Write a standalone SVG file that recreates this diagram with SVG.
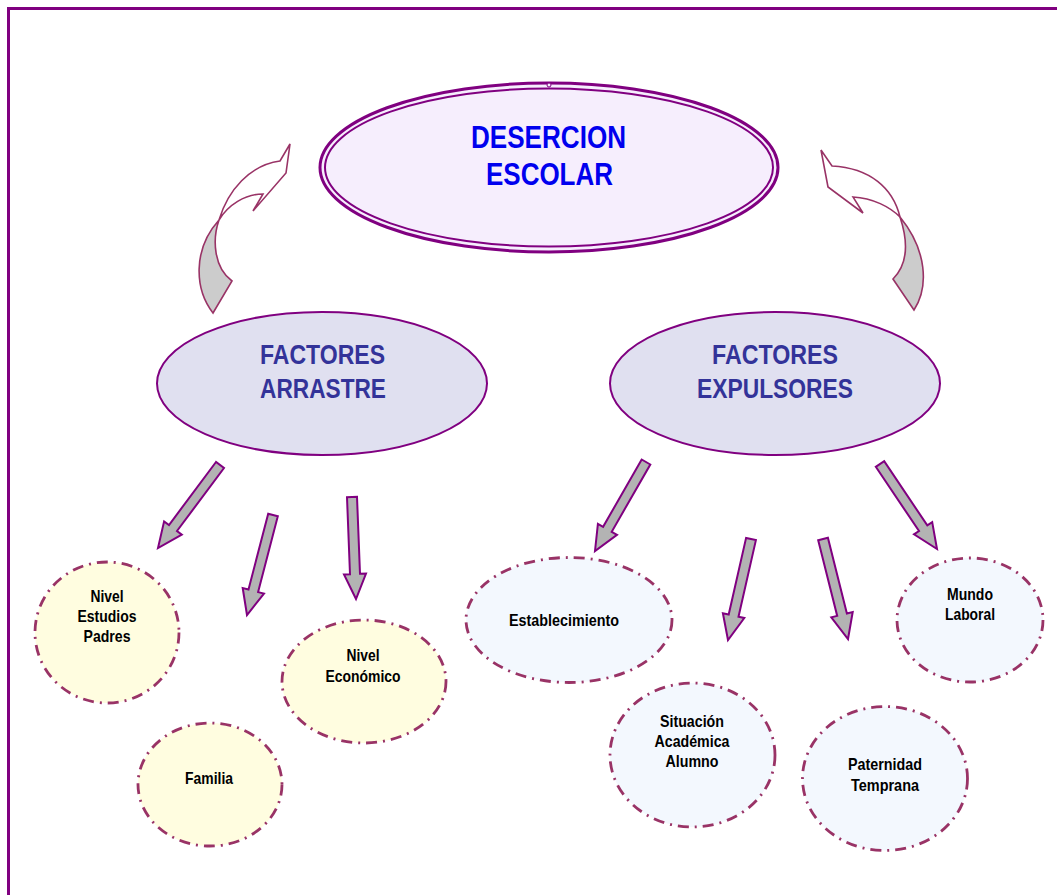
<svg xmlns="http://www.w3.org/2000/svg" width="1057" height="895" viewBox="0 0 1057 895">
  <style>
    text { lengthAdjust: spacingAndGlyphs; }
    .main-t { font-family: "Liberation Sans", Arial, sans-serif; font-weight: bold; font-size: 32px; fill: #0000EE; text-anchor: middle; }
    .fac-t { font-family: "Liberation Sans", Arial, sans-serif; font-weight: bold; font-size: 27px; fill: #333399; text-anchor: middle; }
    .leaf-t { font-family: "Liberation Sans", Arial, sans-serif; font-weight: bold; font-size: 16.5px; fill: #000000; text-anchor: middle; }
    .fac { fill: #E0E0F0; stroke: #800080; stroke-width: 2; }
    .leafY { fill: #FFFDE0; stroke: #993366; stroke-width: 2.8; stroke-dasharray: 11 6 2 6; }
    .leafB { fill: #F3F8FE; stroke: #993366; stroke-width: 2.8; stroke-dasharray: 11 6 2 6; }
    .blk { fill: #B3B3B3; stroke: #800080; stroke-width: 2; stroke-linejoin: miter; }
    .curv { stroke: #993366; stroke-width: 1.6; stroke-linejoin: miter; }
  </style>

  <g id="frame">
    <line x1="7" y1="8.5" x2="1057" y2="8.5" stroke="#800080" stroke-width="3"/>
    <line x1="8.5" y1="7" x2="8.5" y2="895" stroke="#800080" stroke-width="3"/>
  </g>

  <g id="connectors">
    <path class="curv" fill="#CCCCCC" d="M213,313 C195,290 192,250 219,220 C212,240 214,268 232,281 Z"/>
    <path class="curv" fill="#FFFFFF" d="M219,220 C228,190 250,165 280,161 L290,144 L286,173 L253,211 L263,194 C245,194 228,205 219,220 Z"/>
    <path class="curv" fill="#CCCCCC" d="M900,217 C910,247 905,267 893,279 L914,310 C929,287 927,250 900,217 Z"/>
    <path class="curv" fill="#FFFFFF" d="M900,217 C893,188 870,168 832,166 L821,150 L828,187 L863,213 L853,197 C873,198 890,207 900,217 Z"/>
    <polygon class="blk" points="216,462 169,525 164.1,521.4 158,548 181.8,534.6 177,531 224,468"/>
    <polygon class="blk" points="268.2,513.7 248.5,589.5 242.7,588 247,615 264,593.6 258.1,592.1 277.8,516.3"/>
    <polygon class="blk" points="347,497.2 350,574.2 344,574.4 356,599 366,573.6 360,573.8 357,496.8"/>
    <polygon class="blk" points="641.7,459.5 603.1,526.8 597.9,523.8 595,551 617,534.8 611.7,531.8 650.3,464.5"/>
    <polygon class="blk" points="746.1,537.9 728.7,614.5 722.9,613.2 728,640 744.3,618 738.5,616.7 755.9,540.1"/>
    <polygon class="blk" points="818.2,540.2 837.2,615.9 831.3,617.4 848,639 852.7,612 846.9,613.5 827.9,537.8"/>
    <polygon class="blk" points="875.8,466.8 919,531 914,534.3 937,549 932.2,522.1 927.3,525.4 884.2,461.2"/>
  </g>

  <g id="desercion">
    <ellipse cx="549" cy="167.5" rx="229" ry="84.5" fill="#F6EEFD" stroke="#800080" stroke-width="3"/>
    <ellipse cx="549" cy="167.5" rx="224" ry="79" fill="none" stroke="#800080" stroke-width="2"/>
    <circle cx="549" cy="85" r="2" fill="#F6EEFD" stroke="#800080" stroke-width="1"/>
    <text class="main-t" x="548.5" y="148" textLength="155" lengthAdjust="spacingAndGlyphs">DESERCION</text>
    <text class="main-t" x="549.5" y="185" textLength="127" lengthAdjust="spacingAndGlyphs">ESCOLAR</text>
  </g>

  <g id="arrastre">
    <ellipse class="fac" cx="322" cy="383.5" rx="165" ry="71.5"/>
    <text class="fac-t" x="322.5" y="364" textLength="125" lengthAdjust="spacingAndGlyphs">FACTORES</text>
    <text class="fac-t" x="323" y="398" textLength="126" lengthAdjust="spacingAndGlyphs">ARRASTRE</text>
  </g>

  <g id="expulsores">
    <ellipse class="fac" cx="775" cy="383.5" rx="165" ry="71.5"/>
    <text class="fac-t" x="775" y="364" textLength="126" lengthAdjust="spacingAndGlyphs">FACTORES</text>
    <text class="fac-t" x="775" y="398" textLength="156" lengthAdjust="spacingAndGlyphs">EXPULSORES</text>
  </g>

  <g id="nivel-estudios">
    <ellipse class="leafY" cx="107" cy="632.5" rx="72" ry="70.5"/>
    <text class="leaf-t" x="107" y="602" textLength="33" lengthAdjust="spacingAndGlyphs">Nivel</text>
    <text class="leaf-t" x="107" y="622" textLength="59" lengthAdjust="spacingAndGlyphs">Estudios</text>
    <text class="leaf-t" x="107" y="642" textLength="47" lengthAdjust="spacingAndGlyphs">Padres</text>
  </g>

  <g id="nivel-economico">
    <ellipse class="leafY" cx="364" cy="681.5" rx="82" ry="61.5"/>
    <text class="leaf-t" x="363" y="661" textLength="33" lengthAdjust="spacingAndGlyphs">Nivel</text>
    <text class="leaf-t" x="363" y="682" textLength="75" lengthAdjust="spacingAndGlyphs">Económico</text>
  </g>

  <g id="familia">
    <ellipse class="leafY" cx="210" cy="784.5" rx="72" ry="61.5"/>
    <text class="leaf-t" x="209" y="784" textLength="48" lengthAdjust="spacingAndGlyphs">Familia</text>
  </g>

  <g id="establecimiento">
    <ellipse class="leafB" cx="569" cy="620" rx="103" ry="62.5"/>
    <text class="leaf-t" x="564" y="626" textLength="110" lengthAdjust="spacingAndGlyphs">Establecimiento</text>
  </g>

  <g id="situacion">
    <ellipse class="leafB" cx="692.5" cy="755" rx="82.5" ry="72"/>
    <text class="leaf-t" x="692" y="727" textLength="64" lengthAdjust="spacingAndGlyphs">Situación</text>
    <text class="leaf-t" x="692" y="747" textLength="75" lengthAdjust="spacingAndGlyphs">Académica</text>
    <text class="leaf-t" x="692" y="767" textLength="53" lengthAdjust="spacingAndGlyphs">Alumno</text>
  </g>

  <g id="paternidad">
    <ellipse class="leafB" cx="885" cy="778.5" rx="82.5" ry="72"/>
    <text class="leaf-t" x="885" y="770" textLength="74" lengthAdjust="spacingAndGlyphs">Paternidad</text>
    <text class="leaf-t" x="885" y="791" textLength="68" lengthAdjust="spacingAndGlyphs">Temprana</text>
  </g>

  <g id="mundo-laboral">
    <ellipse class="leafB" cx="970" cy="620" rx="73" ry="62"/>
    <text class="leaf-t" x="970" y="600" textLength="46" lengthAdjust="spacingAndGlyphs">Mundo</text>
    <text class="leaf-t" x="970" y="620" textLength="50" lengthAdjust="spacingAndGlyphs">Laboral</text>
  </g>
</svg>
